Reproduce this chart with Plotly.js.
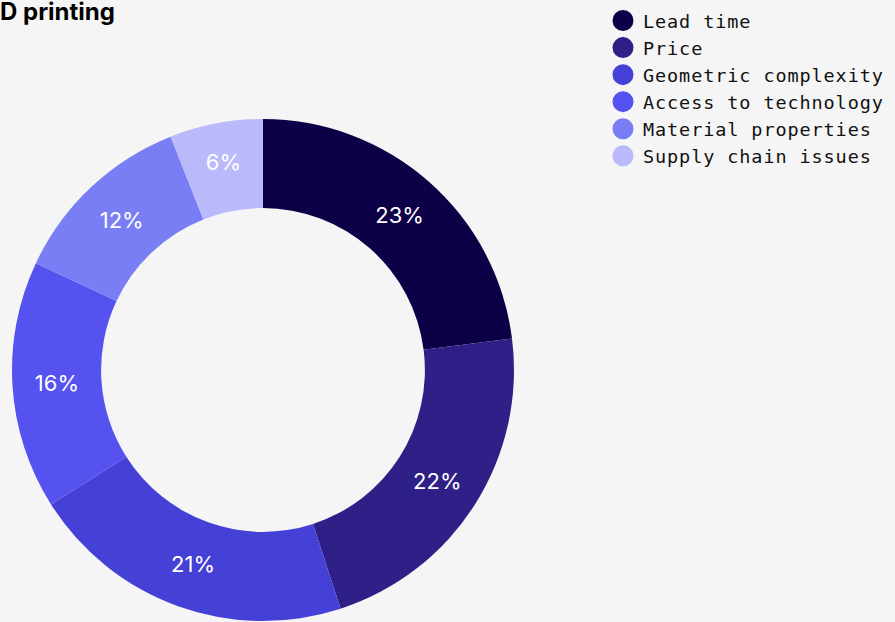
<!DOCTYPE html>
<html>
<head>
<meta charset="utf-8">
<script src="https://cdn.plot.ly/plotly-3.0.1.min.js"></script>
<style>
html,body{margin:0;padding:0;background:#f5f5f5;}
#chart{width:895px;height:622px;}
#chart .legendtext{letter-spacing:0.9px;}
</style>
</head>
<body>
<div id="chart"></div>
<script>
const categories = ["Lead time", "Price", "Geometric complexity", "Access to technology", "Material properties", "Supply chain issues"];
const values = [23, 22, 21, 16, 12, 6];
const colors = ["#0e0047", "#2e2087", "#4641d6", "#5552f0", "#797ef4", "#b9b9fb"];
const titleText = "D printing";

const W = 895, H = 622;
const traces = [{
  type: "pie",
  labels: categories,
  values: values,
  sort: false,
  direction: "clockwise",
  rotation: 0,
  hole: 0.645,
  marker: {colors: colors, line: {color: "#ffffff", width: 0}},
  textinfo: "percent",
  texttemplate: "%{value}%",
  textposition: "inside",
  insidetextorientation: "horizontal",
  textfont: {family: "Inter, Lato, sans-serif", size: 22, color: "#ffffff"},
  domain: {x: [8 / W, 518 / W], y: [1 - 621 / H, 1 - 119 / H]},
  showlegend: false,
  hoverinfo: "label+percent"
}];
categories.forEach((c, i) => {
  traces.push({
    type: "scatter",
    mode: "markers",
    x: [null], y: [null],
    name: c,
    marker: {color: colors[i], size: 16, symbol: "circle", line: {color: colors[i], width: 5}},
    showlegend: true,
    hoverinfo: "skip"
  });
});

const layout = {
  width: W, height: H,
  paper_bgcolor: "#f5f5f5",
  plot_bgcolor: "#f5f5f5",
  margin: {l: 0, r: 0, t: 0, b: 0, autoexpand: false},
  title: {text: "<b>" + titleText + "</b>", x: 0, xref: "container", xanchor: "left", y: 1, yref: "container", yanchor: "top", pad: {t: 3, l: 0},
          font: {family: "Inter, Lato, sans-serif", size: 24, color: "#000000"},
          automargin: false},
  xaxis: {visible: false},
  yaxis: {visible: false},
  showlegend: true,
  legend: {
    x: 603 / W, xanchor: "left", y: 1 - 2 / H, yanchor: "top",
    bgcolor: "rgba(0,0,0,0)",
    font: {family: "'DejaVu Sans Mono', 'Liberation Mono', monospace", size: 18.5, color: "#111111"},
    tracegroupgap: 0,
    itemwidth: 30
  }
};
Plotly.newPlot("chart", traces, layout, {displayModeBar: false, staticPlot: true}).then(function (gd) {
  gd.querySelectorAll(".legend [clip-path]").forEach(function (el) { el.removeAttribute("clip-path"); });
});
</script>
</body>
</html>
